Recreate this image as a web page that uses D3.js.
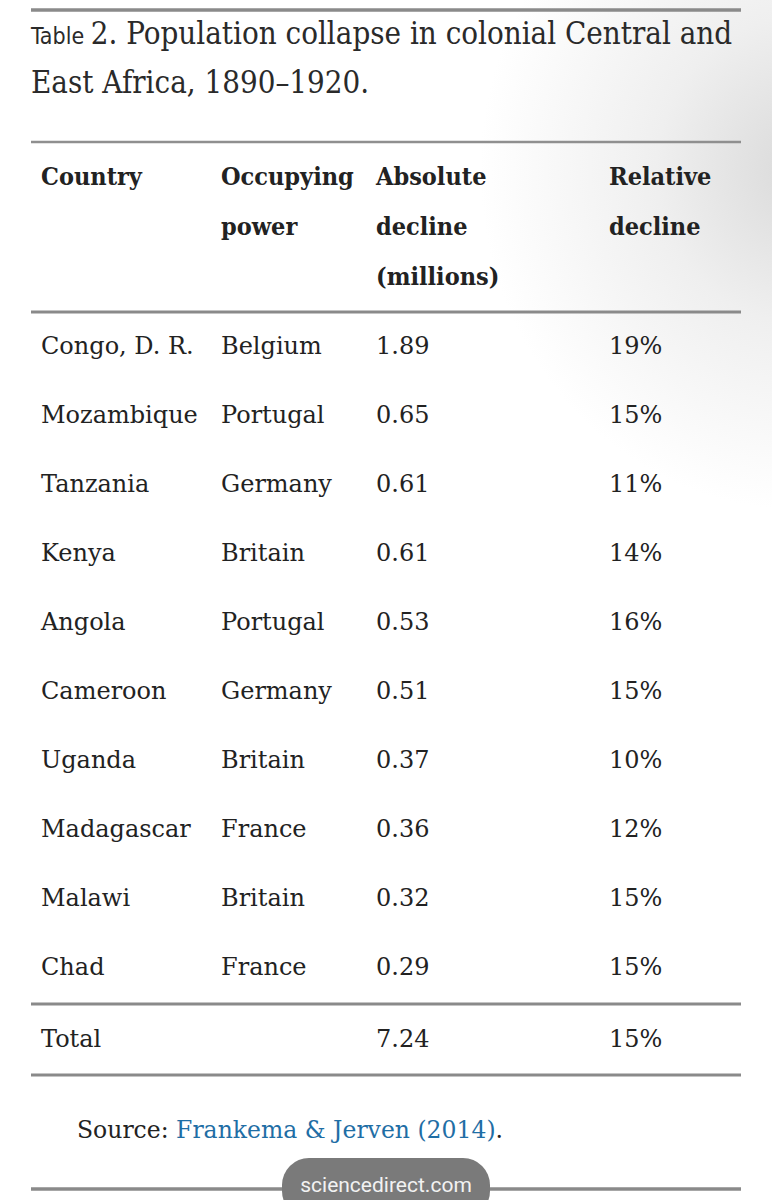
<!DOCTYPE html>
<html>
<head>
<meta charset="utf-8">
<script src="https://cdn.jsdelivr.net/npm/d3@7"></script>
<style>
  html, body { margin: 0; padding: 0; background: #fff; }
  svg { display: block; }
  .body-text { font-family: "DejaVu Serif", serif; font-size: 24px; fill: #222; }
  .head-text { font-family: "DejaVu Serif Condensed", "DejaVu Serif", serif; font-stretch: condensed; font-weight: bold; font-size: 25px; fill: #222; }
  .title-text { font-family: "DejaVu Serif Condensed", "DejaVu Serif", serif; font-stretch: condensed; font-size: 31px; fill: #2a2a2a; }
</style>
</head>
<body>
<div id="table"></div>
<script>
var countries = ["Congo, D. R.", "Mozambique", "Tanzania", "Kenya", "Angola",
                 "Cameroon", "Uganda", "Madagascar", "Malawi", "Chad"];
var powers = ["Belgium", "Portugal", "Germany", "Britain", "Portugal",
              "Germany", "Britain", "France", "Britain", "France"];
var absoluteDecline = ["1.89", "0.65", "0.61", "0.61", "0.53",
                       "0.51", "0.37", "0.36", "0.32", "0.29"];
var relativeDecline = ["19%", "15%", "11%", "14%", "16%",
                       "15%", "10%", "12%", "15%", "15%"];
var totalRow = ["Total", "", "7.24", "15%"];
var headers = [["Country"], ["Occupying", "power"], ["Absolute", "decline", "(millions)"], ["Relative", "decline"]];
var titleLines = ["2. Population collapse in colonial Central and", "East Africa, 1890\u20131920."];

var width = 772;
var height = 1200;
var left = 31, right = 741;

var svg = d3.select("#table").append("svg")
  .attr("width", width)
  .attr("height", height);

/* background shading, top right */
var defs = svg.append("defs");
var grad = defs.append("radialGradient")
  .attr("id", "shade")
  .attr("gradientUnits", "userSpaceOnUse")
  .attr("cx", 800).attr("cy", 170).attr("r", 400)
  .attr("gradientTransform", "translate(800,170) scale(0.8,0.85) translate(-800,-170)");
grad.append("stop").attr("offset", 0).attr("stop-color", "#dadada");
grad.append("stop").attr("offset", 0.45).attr("stop-color", "#efefef");
grad.append("stop").attr("offset", 1).attr("stop-color", "#ffffff");
svg.append("rect").attr("width", width).attr("height", height).attr("fill", "#fff");
svg.append("rect").attr("width", width).attr("height", 600).attr("fill", "url(#shade)");

/* columns and rows */
var colKeys = ["country", "power", "abs", "rel"];
var colX = d3.scaleOrdinal().domain(colKeys).range([41, 221, 376, 609]);
var rowY = d3.scalePoint().domain(countries).range([345, 966]);
var headY = d3.scaleLinear().domain([0, 1]).range([176, 226]);

/* rules */
var rules = [
  { y: 10, w: 3.5, c: "#8a8a8a" },
  { y: 142, w: 2.5, c: "#8f8f8f" },
  { y: 312, w: 3, c: "#8a8a8a" },
  { y: 1004, w: 3, c: "#8a8a8a" },
  { y: 1075, w: 3, c: "#8a8a8a" },
  { y: 1189, w: 3.5, c: "#8a8a8a" }
];
svg.selectAll(".rule")
  .data(rules).enter()
  .append("line")
  .attr("class", "rule")
  .attr("x1", left).attr("x2", right)
  .attr("y1", d => d.y).attr("y2", d => d.y)
  .attr("stroke", d => d.c)
  .attr("stroke-width", d => d.w);

/* title */
var title = svg.append("g").attr("class", "title");
var t1 = title.append("text")
  .attr("class", "title-text")
  .attr("x", left).attr("y", 44);
t1.append("tspan")
  .attr("font-family", "'DejaVu Sans Condensed', 'DejaVu Sans', sans-serif")
  .attr("font-size", 23)
  .text("Table ");
t1.append("tspan").text(titleLines[0]);
title.append("text")
  .attr("class", "title-text")
  .attr("x", left).attr("y", 93)
  .text(titleLines[1]);

/* header */
var head = svg.append("g").attr("class", "header");
headers.forEach(function(lines, ci) {
  head.selectAll(null)
    .data(lines).enter()
    .append("text")
    .attr("class", "head-text")
    .attr("x", colX(colKeys[ci]))
    .attr("y", (d, i) => headY(i))
    .attr("dy", "0.35em")
    .text(d => d);
});

/* body rows */
var rows = countries.map(function(c, i) {
  return [c, powers[i], absoluteDecline[i], relativeDecline[i]];
});

var body = svg.append("g").attr("class", "rows");
body.selectAll(".row")
  .data(rows).enter()
  .append("g")
  .attr("class", "row")
  .attr("transform", d => `translate(0, ${rowY(d[0])})`)
  .selectAll("text")
  .data(d => d).enter()
  .append("text")
  .attr("class", "body-text")
  .attr("x", (d, i) => colX(colKeys[i]))
  .attr("dy", "0.36em")
  .text(d => d);

/* total */
svg.append("g")
  .attr("transform", "translate(0, 1038)")
  .selectAll("text")
  .data(totalRow).enter()
  .append("text")
  .attr("class", "body-text")
  .attr("x", (d, i) => colX(colKeys[i]))
  .attr("dy", "0.36em")
  .text(d => d);

/* source */
var src = svg.append("text")
  .attr("class", "body-text")
  .attr("x", 77).attr("y", 1130)
  .attr("dy", "0.36em")
  .style("font-size", "23.5px");
src.append("tspan").text("Source: ");
src.append("tspan").attr("fill", "#1f6ea5").text("Frankema & Jerven (2014)");
src.append("tspan").text(".");

/* browser pill */
var pill = svg.append("g").attr("transform", "translate(386, 1185)");
pill.append("rect")
  .attr("x", -104).attr("y", -27)
  .attr("width", 208).attr("height", 60)
  .attr("rx", 27)
  .attr("fill", "#7a7a7a");
pill.append("text")
  .attr("text-anchor", "middle")
  .attr("dy", "0.35em")
  .attr("font-family", "Roboto, 'Open Sans', sans-serif")
  .attr("font-size", 21)
  .attr("fill", "#f2f2f2")
  .text("sciencedirect.com");
</script>
</body>
</html>
